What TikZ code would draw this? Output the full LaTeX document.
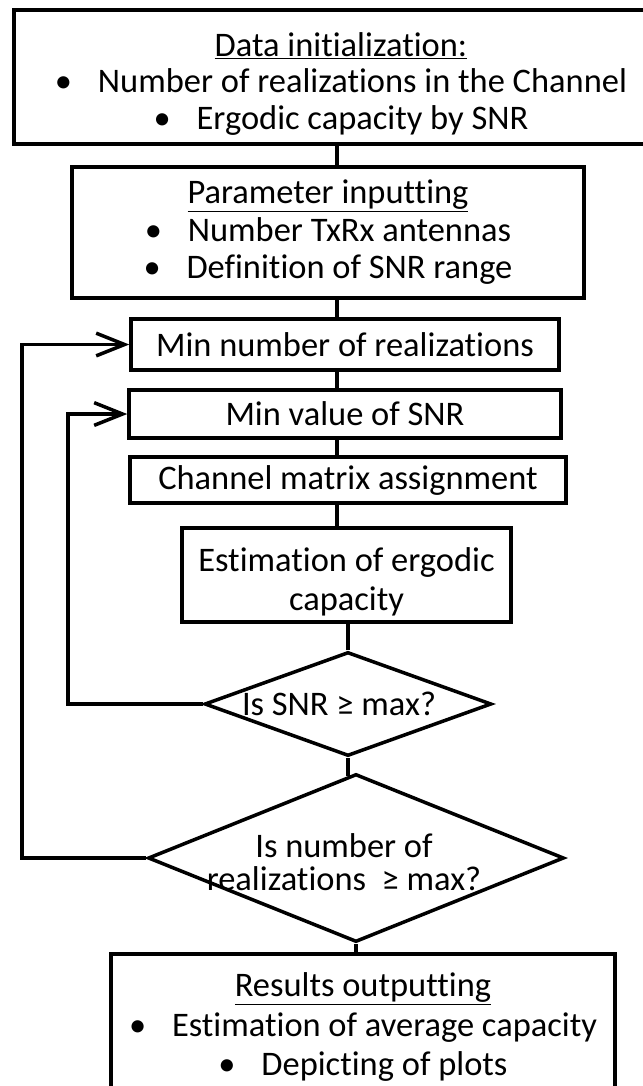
\documentclass[tikz,border=0pt]{standalone}
\usepackage{fontspec}
\setmainfont{Carlito}[Ligatures=NoCommon]
\usetikzlibrary{
  shapes.geometric, % Shape "diamond"
  arrows.meta,
}
\def\px{0.03cm}
\newcommand{\bul}{\textbullet\hspace{0.75em}}
\newcommand{\lowr}{\rule{0pt}{32pt}} % pushes a text block a bit down in its box
\tikzset{
  >={Straight Barb[length=0.85cm,width=0.68cm]},
  my box/.style={
    draw,
    rectangle,
    align=center,
    inner sep=1pt,
    font=\fontsize{29.4pt}{31pt}\selectfont
  },
  my decision/.style={
    draw,
    diamond,
    inner sep=0pt
  },
  my label/.style={
    align=center,
    inner sep=0pt,
    font=\fontsize{29.4pt}{28pt}\selectfont
  },
  longer/.style={
    shorten >=-1mm
  }
}

\begin{document}
\begin{tikzpicture}[x=\px,y=-\px,line width=3pt]
\useasboundingbox (0,0) rectangle (643,1086);
\coordinate (spine) at (337,0);
\coordinate (outer) at (22,0);
\coordinate (inner) at (68,0);

\node[my box,minimum width=654*\px,minimum height=134*\px] (b1) at (341,77)
  {\lowr\underline{Data initialization:}\\
   \bul Number of realizations in the Channel\\
   \bul Ergodic capacity by SNR};
\node[my box,minimum width=512*\px,minimum height=131*\px] (b2) at (328,232.5)
  {\underline{Parameter inputting}\\[1pt]
   \bul Number TxRx antennas\\[1pt]
   \bul Definition of SNR range};
\node[my box,minimum width=428*\px,minimum height=51*\px] (b3) at (345,344.5)
  {Min number of realizations};
\node[my box,minimum width=432*\px,minimum height=48*\px] (b4) at (345,414)
  {Min value of SNR};
\node[my box,minimum width=436*\px,minimum height=46*\px] (b5) at (348,480)
  {Channel matrix assignment};
\node[my box,minimum width=329*\px,minimum height=94*\px] (b6) at (346.5,575)
  {\lowr Estimation of ergodic\\[3pt] capacity};
\node[my decision,minimum width=287*\px,minimum height=104*\px,
  label={[my label,xshift=-9*\px]center:Is SNR ≥ max?}] (d1) at (348,704) {};
\node[my decision,minimum width=416*\px,minimum height=168*\px,
  label={[my label,xshift=-12*\px,yshift=-4*\px]center:Is number of\\ realizations~ ≥ max?}] (d2) at (356,858) {};
\node[my box,minimum width=504*\px,minimum height=146*\px] (b7) at (363,1027)
  {\underline{Results outputting}\\[3pt]
   \bul Estimation of average capacity\\[3pt]
   \bul Depicting of plots};

\path
  (b1.south -| spine) edge (b2.north -| spine)
  (b2.south -| spine) edge (b3.north -| spine)
  (b3.south -| spine) edge (b4.north -| spine)
  (b4.south -| spine) edge (b5.north -| spine)
  (b5.south -| spine) edge (b6.north -| spine)
  (d1.north) edge (d1.north |- b6.south)
  (d1.south) edge[longer] (d1.south |- d2.north)
  (d2.south) edge (d2.south |- b7.north);

% loops back to the two start boxes
\draw[->] (d1.west) -- (d1.west -| inner) -- (b4.west -| inner) -- (b4.west);
\draw[->] (d2.west) -- (d2.west -| outer) -- (b3.west -| outer) -- (b3.west);
\end{tikzpicture}
\end{document}
